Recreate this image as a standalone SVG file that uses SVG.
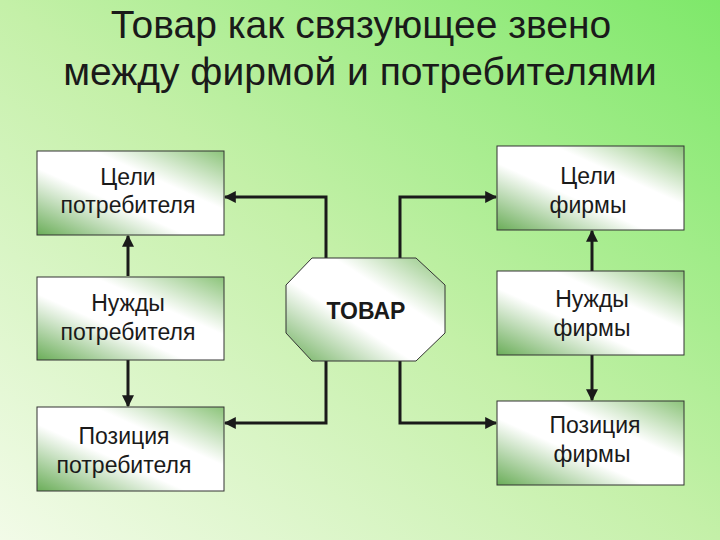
<svg xmlns="http://www.w3.org/2000/svg" width="720" height="540" viewBox="0 0 720 540">
<defs>
<linearGradient id="bg" x1="0" y1="1" x2="1" y2="0">
<stop offset="0" stop-color="#f2fbe8"/><stop offset="0.5" stop-color="#c4f0a8"/><stop offset="1" stop-color="#7ee86a"/>
</linearGradient>
<linearGradient id="bx" x1="0" y1="1" x2="1" y2="0">
<stop offset="0" stop-color="#6aad58"/><stop offset="0.4" stop-color="#ffffff"/><stop offset="0.65" stop-color="#ffffff"/><stop offset="1" stop-color="#8cc47a"/>
</linearGradient>
<marker id="ar" viewBox="0 0 10 10" refX="9" refY="5" markerWidth="4" markerHeight="4" orient="auto-start-reverse">
<path d="M0,0 L10,5 L0,10 z" fill="#1a1a1a"/>
</marker>
<style>
.box{fill:url(#bx);stroke:#333;stroke-width:1}
.t{font-family:"Liberation Sans",Arial,sans-serif;font-size:23px;fill:#1a1a1a;text-anchor:middle}
.c{fill:none;stroke:#1a1a1a;stroke-width:3;marker-end:url(#ar)}
</style>
</defs>
<rect width="720" height="540" fill="url(#bg)"/>
<g id="title" font-family="Liberation Sans,Arial,sans-serif" font-size="39" fill="#1a1a1a" text-anchor="middle">
<text x="361" y="38">Товар как связующее звено</text>
<text x="360" y="85">между фирмой и потребителями</text>
</g>
<g id="connectors">
<polyline class="c" points="326,258 326,197 225,197"/>
<polyline class="c" points="326,361 326,423 225,423"/>
<polyline class="c" points="400,258 400,197 496,197"/>
<polyline class="c" points="400,361 400,423 496,423"/>
<line class="c" x1="128" y1="276" x2="128" y2="236"/>
<line class="c" x1="128" y1="360" x2="128" y2="406"/>
<line class="c" x1="592" y1="271" x2="592" y2="231"/>
<line class="c" x1="592" y1="355" x2="592" y2="400"/>
</g>
<g id="n1"><rect class="box" x="37" y="151" width="187" height="84"/><text class="t" x="128" y="185">Цели</text><text class="t" x="128" y="213">потребителя</text></g>
<g id="n2"><rect class="box" x="37" y="277" width="187" height="83"/><text class="t" x="128" y="311">Нужды</text><text class="t" x="128" y="340">потребителя</text></g>
<g id="n3"><rect class="box" x="37" y="407" width="187" height="84"/><text class="t" x="124" y="444">Позиция</text><text class="t" x="124" y="473">потребителя</text></g>
<g id="n4"><rect class="box" x="497" y="146" width="187" height="84"/><text class="t" x="588" y="184">Цели</text><text class="t" x="588" y="213">фирмы</text></g>
<g id="n5"><rect class="box" x="497" y="271" width="187" height="84"/><text class="t" x="592" y="307">Нужды</text><text class="t" x="592" y="336">фирмы</text></g>
<g id="n6"><rect class="box" x="497" y="401" width="187" height="84"/><text class="t" x="595" y="433">Позиция</text><text class="t" x="592" y="462">фирмы</text></g>
<g id="n0"><polygon class="box" points="312,258 416,258 445,285 445,333 416,361 312,361 286,333 286,285"/><text class="t" x="366" y="319" font-weight="bold" font-size="24">ТОВАР</text></g>
</svg>
